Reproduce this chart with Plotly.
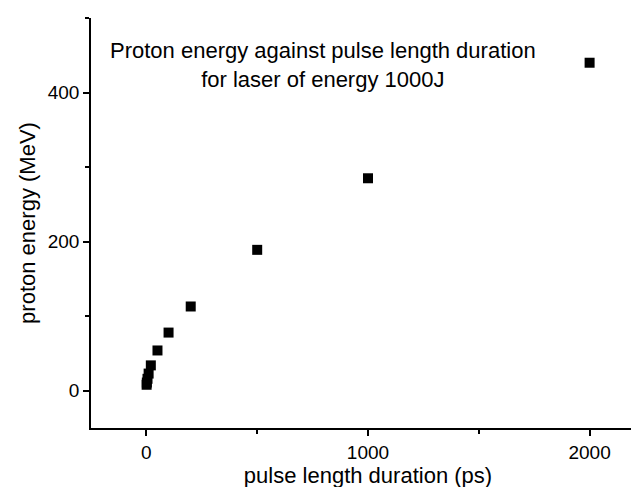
import plotly.graph_objects as go

# pulse length (ps) and resulting proton energy (MeV)
pulse_length = [1, 2, 5, 10, 20, 50, 100, 200, 500, 1000, 2000]
proton_energy = [8, 11, 16, 23, 34, 54, 78, 113, 189, 285, 440]

x_ticks = [0, 1000, 2000]
y_ticks = [0, 200, 400]

FONT = "Liberation Sans, Arial, sans-serif"

fig = go.Figure()

fig.add_trace(go.Scatter(
    x=pulse_length,
    y=proton_energy,
    mode="markers",
    marker=dict(symbol="square", size=10, color="black"),
    showlegend=False
))

axis_style = dict(
    showline=True,
    linecolor="black",
    linewidth=1.5,
    showgrid=False,
    zeroline=False,
    ticks="outside",
    ticklen=6,
    tickwidth=1.5,
    tickcolor="black",
    tickfont=dict(family=FONT, size=19, color="black"),
    mirror=False,
    automargin=False,
)

fig.update_xaxes(
    **axis_style,
    range=[-250, 2250],
    tickvals=x_ticks,
    minor=dict(dtick=500, tick0=0, ticks="outside", ticklen=4, tickwidth=1.5, tickcolor="black"),
    title=dict(text="pulse length duration (ps)", font=dict(family=FONT, size=22, color="black"), standoff=2),
)

fig.update_yaxes(
    **axis_style,
    range=[-50, 500],
    tickvals=y_ticks,
    minor=dict(dtick=100, tick0=0, ticks="outside", ticklen=4, tickwidth=1.5, tickcolor="black"),
    title=dict(text="proton energy (MeV)", font=dict(family=FONT, size=22, color="black"), standoff=6),
)

fig.add_annotation(
    text="Proton energy against pulse length duration<br>for laser of energy 1000J",
    xref="paper", yref="paper",
    x=0.418, y=0.955,
    xanchor="center", yanchor="top",
    showarrow=False,
    align="center",
    font=dict(family=FONT, size=22, color="black"),
)

fig.update_layout(
    width=639,
    height=487,
    margin=dict(l=83, r=2, t=10, b=67),
    plot_bgcolor="white",
    paper_bgcolor="white",
)

fig.write_html("out.html")
